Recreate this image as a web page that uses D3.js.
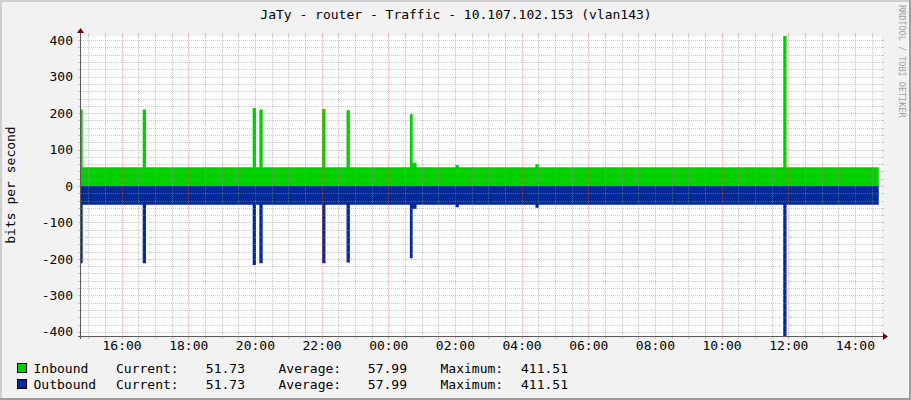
<!DOCTYPE html>
<html><head><meta charset="utf-8">
<script src="https://cdn.jsdelivr.net/npm/d3@7/dist/d3.min.js"></script>
<style>html,body{margin:0;padding:0;background:#f2f2f2;} svg{display:block;}</style>
</head><body><svg id="c" width="911" height="400"></svg>
<script>
// ---------------- data ----------------
const title = "JaTy - router - Traffic - 10.107.102.153 (vlan143)";
const yAxisTitle = "bits per second";
const watermark = "RRDTOOL / TOBI OETIKER";
const graphStart = "14:47";           // graph spans 24 h, ends at same time next day
// step series: each value holds from its time until the next time
const times    = ["14:47","14:50","16:38","16:44","19:56","20:02","20:08","20:14","22:01","22:07","22:45","22:51","00:39","00:44","00:51","02:01","02:07","04:25","04:31","11:51","11:57","14:43"];
const inbound  = [210, 51.73, 210, 51.73, 214, 51.73, 210, 51.73, 211, 51.73, 208, 51.73, 197, 64, 51.73, 57.6, 51.73, 60, 51.73, 411.51, 51.73, 51.73];
const outbound = [212, 51.73, 212, 51.73, 217, 51.73, 212, 51.73, 212, 51.73, 210, 51.73, 198, 63, 51.73, 58, 51.73, 60, 51.73, 411.51, 51.73, 51.73];
const yMax = 411.51;
const yTickValues = [400, 300, 200, 100, 0, -100, -200, -300, -400];
const yTickLabels = ["400", "300", "200", "100", "0", "-100", "-200", "-300", "-400"];
const xTickLabels = ["16:00","18:00","20:00","22:00","00:00","02:00","04:00","06:00","08:00","10:00","12:00","14:00"];
const legendNames   = ["Inbound", "Outbound"];
const legendColors  = ["#00CF00", "#002A97"];
const legendCurrent = ["51.73", "51.73"];
const legendAverage = ["57.99", "57.99"];
const legendMaximum = ["411.51", "411.51"];

// ---------------- helpers ----------------
const base = new Date(2020, 0, 1).getTime();
const mins = s => { const [h, m] = s.split(":").map(Number); return h * 60 + m; };
const startMin = mins(graphStart);
const toDate = s => { let m = mins(s); if (m < startMin) m += 1440; return new Date(base + m * 60000); };
const tStart = new Date(base + startMin * 60000);
const tEnd = new Date(base + (startMin + 1440) * 60000);

const W = 911, H = 400;
const L = 81, R = 881, T = 36, B = 336;
const FONT = "'DejaVu Sans Mono', monospace";

const svg = d3.select("#c");
const x = d3.scaleTime().domain([tStart, tEnd]).range([L, R]);
const y = d3.scaleLinear().domain([-yMax, yMax]).range([B, T]);

// background + shaded frame
svg.append("rect").attr("width", W).attr("height", H).attr("fill", "#F2F2F2");
svg.append("rect").attr("x", 0).attr("y", 0).attr("width", W).attr("height", 2).attr("fill", "#CFCFCF");
svg.append("rect").attr("x", 0).attr("y", 0).attr("width", 2).attr("height", H).attr("fill", "#CFCFCF");
svg.append("rect").attr("x", 0).attr("y", H - 2).attr("width", W).attr("height", 2).attr("fill", "#9E9E9E");
svg.append("rect").attr("x", W - 2).attr("y", 0).attr("width", 2).attr("height", H).attr("fill", "#9E9E9E");

// plot area
svg.append("rect").attr("x", L).attr("y", T).attr("width", R - L).attr("height", B - T).attr("fill", "#FFFFFF");

// data areas
const data = times.map((t, i) => ({ t: toDate(t), i: inbound[i], o: outbound[i] }));
const areaIn = d3.area().x(d => x(d.t)).y0(y(0)).y1(d => y(d.i)).curve(d3.curveStepAfter);
const areaOut = d3.area().x(d => x(d.t)).y0(y(0)).y1(d => y(-d.o)).curve(d3.curveStepAfter);
svg.append("path").datum(data).attr("d", areaIn).attr("fill", legendColors[0]);
svg.append("path").datum(data).attr("d", areaOut).attr("fill", legendColors[1]);

// grid (drawn on top, like rrdtool)
const px = v => Math.round(v) + 0.5;
const gridMinor = "rgba(150,150,150,0.5)", gridMajor = "rgba(235,90,90,0.45)";
const g = svg.append("g").attr("shape-rendering", "crispEdges");
const yMinor = d3.range(-400, 401, 20).filter(v => v % 100 !== 0);
const xMinor = d3.timeMinute.every(30).range(tStart, tEnd).filter(d => !(d.getMinutes() === 0 && d.getHours() % 2 === 0));
const xMajor = xTickLabels.map(toDate);

function hline(v, col) {
  const yy = px(y(v));
  g.append("line").attr("x1", L).attr("x2", R).attr("y1", yy).attr("y2", yy).attr("stroke", col).attr("stroke-dasharray", "1,1");
  g.append("line").attr("x1", L - 3).attr("x2", L).attr("y1", yy).attr("y2", yy).attr("stroke", col);
  g.append("line").attr("x1", R).attr("x2", R + 3).attr("y1", yy).attr("y2", yy).attr("stroke", col);
}
function vline(d, col) {
  const xx = px(x(d));
  g.append("line").attr("x1", xx).attr("x2", xx).attr("y1", T).attr("y2", B).attr("stroke", col).attr("stroke-dasharray", "1,1");
  g.append("line").attr("x1", xx).attr("x2", xx).attr("y1", T - 3).attr("y2", T).attr("stroke", col);
  g.append("line").attr("x1", xx).attr("x2", xx).attr("y1", B).attr("y2", B + 3).attr("stroke", col);
}
yMinor.forEach(v => hline(v, gridMinor));
xMinor.forEach(d => vline(d, gridMinor));
yTickValues.forEach(v => hline(v, gridMajor));
xMajor.forEach(d => vline(d, gridMajor));

// axes lines + arrows
const axisCol = "#5A5A5A", arrowCol = "#7F0000";
svg.append("line").attr("x1", L - 0.5).attr("x2", L - 0.5).attr("y1", B + 3).attr("y2", T - 3).attr("stroke", axisCol).attr("shape-rendering", "crispEdges");
svg.append("line").attr("x1", L - 3).attr("x2", R + 2).attr("y1", B + 0.5).attr("y2", B + 0.5).attr("stroke", axisCol).attr("shape-rendering", "crispEdges");
svg.append("path").attr("d", `M${L - 4},${T - 3} L${L + 3},${T - 3} L${L - 0.5},${T - 8} Z`).attr("fill", arrowCol);
svg.append("path").attr("d", `M${R + 2},${B - 3} L${R + 2},${B + 4} L${R + 7},${B + 0.5} Z`).attr("fill", arrowCol);

// tick labels via d3 axes
const yAxis = d3.axisLeft(y).tickValues(yTickValues).tickFormat((d, i) => yTickLabels[i]).tickSize(0).tickPadding(8);
const ya = svg.append("g").attr("transform", `translate(${L},0)`).call(yAxis);
ya.select(".domain").remove();
ya.selectAll("text").attr("font-family", FONT).attr("font-size", 13).attr("fill", "#000");

const xAxis = d3.axisBottom(x).tickValues(xMajor).tickFormat((d, i) => xTickLabels[i]).tickSize(0).tickPadding(5);
const xa = svg.append("g").attr("transform", `translate(0,${B})`).call(xAxis);
xa.select(".domain").remove();
xa.selectAll("text").attr("font-family", FONT).attr("font-size", 13).attr("fill", "#000");

// title
svg.append("text").attr("x", 456).attr("y", 19).attr("text-anchor", "middle")
  .attr("font-family", FONT).attr("font-size", 13).attr("fill", "#000").text(title);

// y axis title
svg.append("text").attr("transform", "translate(15,185) rotate(-90)").attr("text-anchor", "middle")
  .attr("font-family", FONT).attr("font-size", 13).attr("fill", "#000").text(yAxisTitle);

// watermark
svg.append("text").attr("transform", "translate(899,5) rotate(90)").attr("text-anchor", "start")
  .attr("font-family", FONT).attr("font-size", 8.5).attr("fill", "#A0A0A0").text(watermark);

// legend
legendNames.forEach((name, i) => {
  const by = 373 + i * 16;
  svg.append("rect").attr("x", 17.5).attr("y", by - 9.5).attr("width", 9).attr("height", 9)
    .attr("fill", legendColors[i]).attr("stroke", "#000").attr("shape-rendering", "crispEdges");
  const t = (xx, s, anchor) => svg.append("text").attr("x", xx).attr("y", by).attr("text-anchor", anchor || "start")
    .attr("font-family", FONT).attr("font-size", 13).attr("fill", "#000").text(s);
  t(33.5, name);
  t(116, "Current:");
  t(245, legendCurrent[i], "end");
  t(278.5, "Average:");
  t(407, legendAverage[i], "end");
  t(440.5, "Maximum:");
  t(568, legendMaximum[i], "end");
});
</script>
</body></html>
